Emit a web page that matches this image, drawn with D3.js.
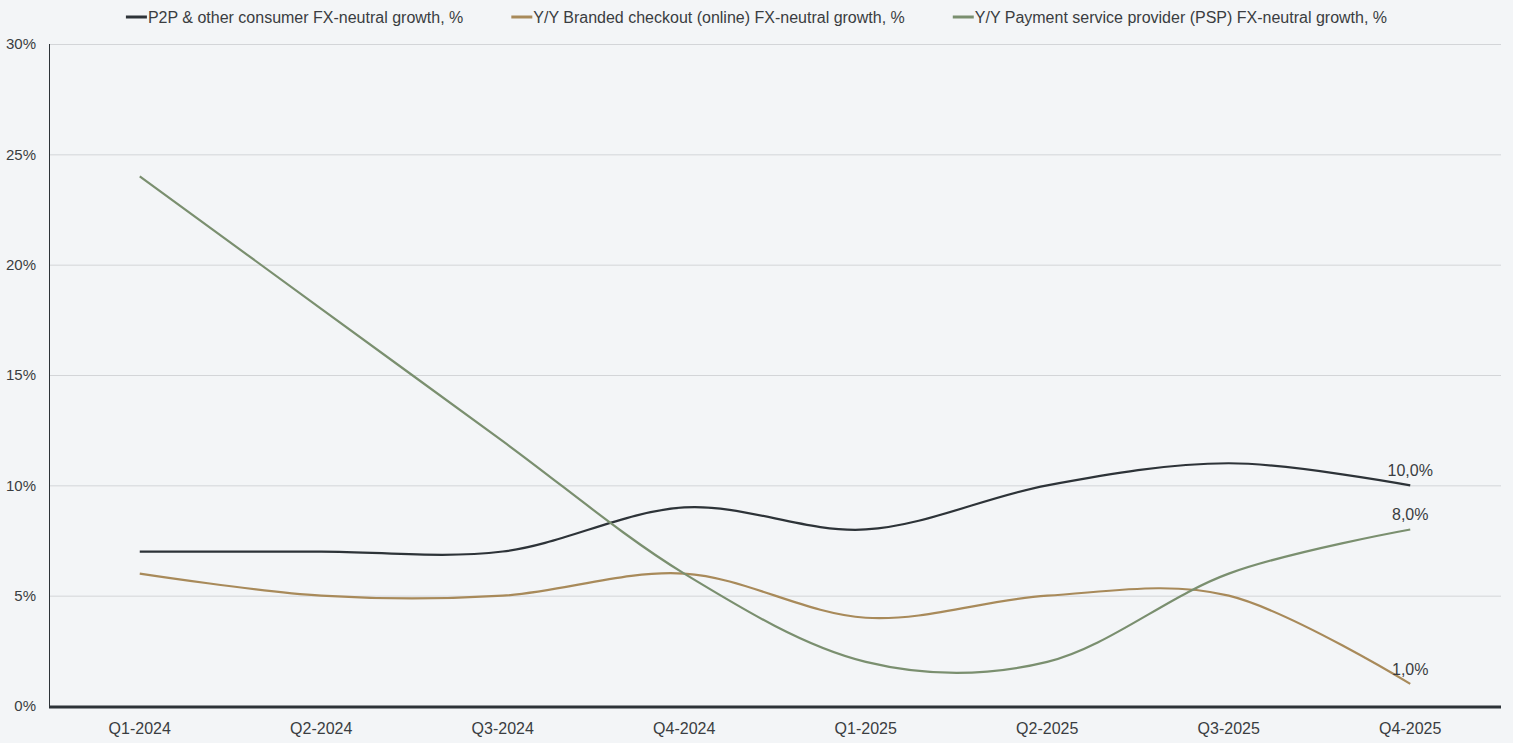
<!DOCTYPE html>
<html lang="en">
<head>
<meta charset="UTF-8">
<script src="https://d3js.org/d3.v7.min.js"></script>
<style>
  html, body { margin: 0; padding: 0; background: #f3f5f7; }
  text { font-family: "Liberation Sans", Arial, sans-serif; fill: #3a3d41; }
</style>
</head>
<body>
<div id="chart"></div>
<script>
var quarters = ["Q1-2024", "Q2-2024", "Q3-2024", "Q4-2024", "Q1-2025", "Q2-2025", "Q3-2025", "Q4-2025"];
var p2p = [7, 7, 7, 9, 8, 10, 11, 10];
var branded = [6, 5, 5, 6, 4, 5, 5, 1];
var psp = [24, 18, 12, 6, 2, 2, 6, 8];
var yTicks = [0, 5, 10, 15, 20, 25, 30];
var seriesNames = ["P2P & other consumer FX-neutral growth, %",
                   "Y/Y Branded checkout (online) FX-neutral growth, %",
                   "Y/Y Payment service provider (PSP) FX-neutral growth, %"];
var colors = ["#2d3338", "#a88a5a", "#7a8f6f"];

var series = [p2p, branded, psp];

var W = 1513, H = 743;
var margin = {top: 44, right: 12, bottom: 37, left: 49};
var width = W - margin.left - margin.right,
    height = H - margin.top - margin.bottom;

var svg = d3.select("#chart").append("svg")
    .attr("width", W)
    .attr("height", H);

var g = svg.append("g")
    .attr("transform", "translate(" + margin.left + "," + margin.top + ")");

var x = d3.scalePoint()
    .domain(quarters)
    .range([0, width])
    .padding(0.5);

var y = d3.scaleLinear()
    .domain([0, 30])
    .range([height, 0]);

// gridlines
g.selectAll(".grid")
  .data(yTicks)
  .enter()
  .append("line")
    .attr("x1", 0)
    .attr("x2", width)
    .attr("y1", function(d) { return y(d) + 0.5; })
    .attr("y2", function(d) { return y(d) + 0.5; })
    .attr("stroke", "#d3d5d8")
    .attr("stroke-width", 1);

// y labels
g.selectAll(".ylab")
  .data(yTicks)
  .enter()
  .append("text")
    .attr("x", -13)
    .attr("y", function(d) { return y(d); })
    .attr("dy", "0.35em")
    .attr("text-anchor", "end")
    .style("font-size", "15px")
    .text(function(d) { return d + "%"; });

// y axis line
g.append("line")
  .attr("x1", 0.5).attr("x2", 0.5)
  .attr("y1", 0).attr("y2", height)
  .attr("stroke", "#2d3338")
  .attr("stroke-width", 1);

// x labels
g.selectAll(".xlab")
  .data(quarters)
  .enter()
  .append("text")
    .attr("x", function(d) { return x(d); })
    .attr("y", height + 28)
    .attr("text-anchor", "middle")
    .style("font-size", "16px")
    .text(function(d) { return d; });

var line = d3.line()
    .x(function(d, i) { return x(quarters[i]); })
    .y(function(d) { return y(d); })
    .curve(d3.curveCatmullRom.alpha(0));

// lines
g.selectAll(".series")
  .data(series)
  .enter()
  .append("path")
    .attr("fill", "none")
    .attr("stroke", function(d, i) { return colors[i]; })
    .attr("stroke-width", 2.2)
    .attr("d", line);

// bottom axis, drawn over the lines
g.append("line")
  .attr("x1", 0).attr("x2", width)
  .attr("y1", height + 1).attr("y2", height + 1)
  .attr("stroke", "#2d3338")
  .attr("stroke-width", 3);

// end labels
g.selectAll(".endlab")
  .data(series)
  .enter()
  .append("text")
    .attr("x", x(quarters[quarters.length - 1]))
    .attr("y", function(d) { return y(d[d.length - 1]) - 9; })
    .attr("text-anchor", "middle")
    .style("font-size", "16px")
    .text(function(d) { return d3.format(".1f")(d[d.length - 1]).replace(".", ",") + "%"; });

// legend, centred on the page
var legend = svg.append("g");
var items = legend.selectAll(".item")
  .data(seriesNames)
  .enter()
  .append("g");

items.append("text")
  .attr("x", 22)
  .attr("y", 23)
  .style("font-size", "16px")
  .text(function(d) { return d; });

var offs = [], cur = 0, gap = 48;
items.each(function(d, i) {
  var w = d3.select(this).select("text").node().getComputedTextLength();
  offs.push(cur);
  cur += 22 + w + gap;
});
var total = cur - gap;
var start = (W - total) / 2;

items.attr("transform", function(d, i) { return "translate(" + (start + offs[i]) + ",0)"; });
items.append("line")
  .attr("x1", 0).attr("x2", 21)
  .attr("y1", 17).attr("y2", 17)
  .attr("stroke", function(d, i) { return colors[i]; })
  .attr("stroke-width", 3);
</script>
</body>
</html>
